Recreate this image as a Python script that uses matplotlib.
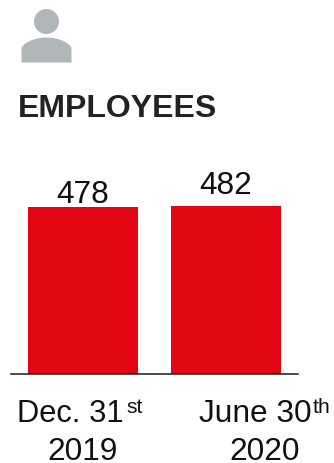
import matplotlib
matplotlib.use("Agg")
import matplotlib.pyplot as plt
from matplotlib.patches import Circle, PathPatch
from matplotlib.path import Path

W, H = 334, 463

positions = [0, 1]
employees = [478, 482]
value_labels = ["478", "482"]
value_offsets = [4, 12]

date_labels = ["Dec. 31", "June 30"]
date_suffixes = ["st", "th"]
years = ["2019", "2020"]

RED = "#e30613"
GREY = "#b1b6b8"
DARK = "#222222"

plt.rcParams["font.family"] = ["Liberation Sans", "DejaVu Sans"]


def px(x, y):
    # pixel position, measured from the top left, to figure coordinates
    return x / W, 1 - y / H


def main():
    fig = plt.figure(figsize=(W / 100, H / 100), dpi=100)

    # bar chart area
    ax = fig.add_axes([11 / W, 1 - 373.5 / H, 287 / W, 223.5 / H])
    ax.bar(positions, employees, width=0.775, color=RED)
    ax.set_xlim(-0.5035, 1.5035)
    ax.set_ylim(0, 643)
    ax.set_xticks([])
    ax.set_yticks([])
    for side in ["top", "left", "right"]:
        ax.spines[side].set_visible(False)
    ax.spines["bottom"].set_linewidth(1.1)
    ax.spines["bottom"].set_color("#1a1a1a")
    ax.patch.set_alpha(0)

    for i in range(2):
        ax.annotate(value_labels[i], (positions[i], employees[i]),
                    xytext=(0, value_offsets[i] * 0.72), textcoords="offset points",
                    ha="center", va="baseline", fontsize=22.8, color="#111111")

    # person icon
    icon = fig.add_axes([0, 0, 1, 1])
    icon.set_xlim(0, W)
    icon.set_ylim(H, 0)
    icon.axis("off")
    icon.patch.set_alpha(0)
    icon.add_patch(Circle((46.5, 21.5), 12.5, color=GREY, lw=0))
    body = Path(
        [(21.5, 62.5), (21.5, 49), (21.5, 44), (33, 37.5), (46.5, 37.5),
         (60, 37.5), (71.5, 44), (71.5, 49), (71.5, 62.5), (21.5, 62.5)],
        [Path.MOVETO, Path.LINETO, Path.CURVE4, Path.CURVE4, Path.CURVE4,
         Path.CURVE4, Path.CURVE4, Path.CURVE4, Path.LINETO, Path.CLOSEPOLY],
    )
    icon.add_patch(PathPatch(body, facecolor=GREY, lw=0))

    fig.text(*px(18, 117), "EMPLOYEES", fontsize=23, fontweight="bold",
             color=DARK, va="baseline", ha="left")

    # date labels with raised suffixes, year underneath
    date_x = [17, 199]
    date_size = [22.2, 22.8]
    suffix_x = [126.5, 313]
    year_x = [83, 265]
    for i in range(2):
        fig.text(*px(date_x[i], 422), date_labels[i], fontsize=date_size[i], color="#111111",
                 va="baseline", ha="left")
        fig.text(*px(suffix_x[i], 413), date_suffixes[i], fontsize=15.2, color="#111111",
                 va="baseline", ha="left")
        fig.text(*px(year_x[i], 459.5), years[i], fontsize=22.8, color="#111111",
                 va="baseline", ha="center")

    fig.savefig("out.png", dpi=100)


if __name__ == "__main__":
    main()
